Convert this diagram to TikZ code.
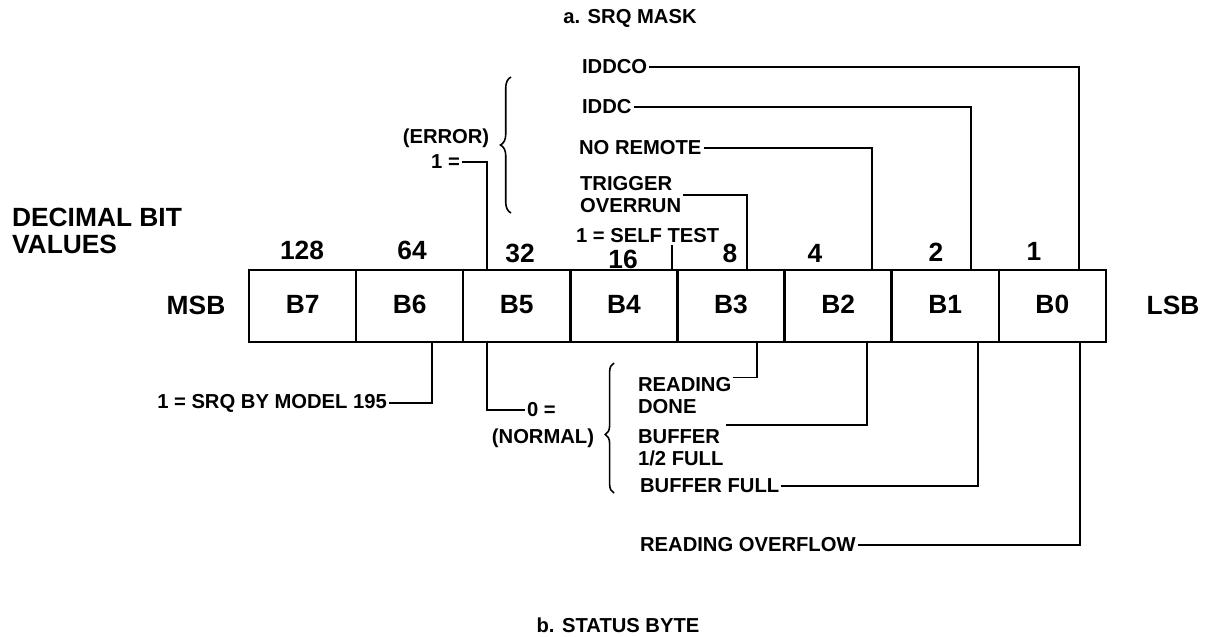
\documentclass[tikz,border=0pt]{standalone}
\usepackage{fontspec}
\setmainfont{Liberation Sans}
\usetikzlibrary{positioning, decorations.pathreplacing}

\newcommand{\lblfont}{\fontsize{11.5}{12.5}\selectfont\bfseries}
\newcommand{\bigfont}{\fontsize{15}{15}\selectfont\bfseries}

\begin{document}
\begin{tikzpicture}[
    x=0.02cm, y=-0.02cm,
    bitcell/.style={draw, line width=1.4pt, minimum width=2.1425cm,
                    minimum height=1.44cm, inner sep=0pt, outer sep=0pt,
                    text height=1.6ex, text depth=0pt, font=\bigfont},
    big/.style={font=\bigfont, inner sep=1pt, align=left},
    lbl/.style={font=\lblfont, inner sep=1pt, align=left},
    wire/.style={line width=1pt},
    curly/.style={decorate, line width=0.9pt}
  ]
    \useasboundingbox (0,0) rectangle (1206,636);

    % titles
    \node[lbl] (titlea) at (630,18) {a. SRQ MASK};
    \node[lbl] (titleb) at (618,625) {b. STATUS BYTE};

    % the byte
    \node[bitcell] (b7) at (302.6,306) {B7};
    \node[bitcell, right=0pt of b7] (b6) {B6};
    \node[bitcell, right=0pt of b6] (b5) {B5};
    \node[bitcell, right=0pt of b5] (b4) {B4};
    \node[bitcell, right=0pt of b4] (b3) {B3};
    \node[bitcell, right=0pt of b3] (b2) {B2};
    \node[bitcell, right=0pt of b2] (b1) {B1};
    \node[bitcell, right=0pt of b1] (b0) {B0};

    \node[big, anchor=west] (decimal) at (10,231) {DECIMAL BIT\\VALUES};
    \node[big] (msb) at (196,305) {MSB};
    \node[big] (lsb) at (1173,305) {LSB};

    % bit values
    \node[big] (v128) at (302,250) {128};
    \node[big] (v64) at (412,250) {64};
    \node[big] (v32) at (520,253) {32};
    \node[big] (v16) at (623,259) {16};
    \node[big] (v8) at (730,253) {8};
    \node[big] (v4) at (815,253) {4};
    \node[big] (v2) at (936,252) {2};
    \node[big] (v1) at (1034,251) {1};

    % taps on top and under the cells
    \coordinate (t5) at ([xshift=-0.6cm]b5.north);
    \coordinate (t4) at ([xshift=0.96cm]b4.north);
    \coordinate (t3) at ([xshift=0.32cm]b3.north);
    \coordinate (t2) at ([xshift=0.68cm]b2.north);
    \coordinate (t1) at ([xshift=0.52cm]b1.north);
    \coordinate (t0) at ([xshift=0.53cm]b0.north);
    \coordinate (u6) at ([xshift=0.45cm]b6.south);
    \coordinate (u5) at ([xshift=-0.6cm]b5.south);
    \coordinate (u3) at ([xshift=0.52cm]b3.south);
    \coordinate (u2) at ([xshift=0.58cm]b2.south);
    \coordinate (u1) at ([xshift=0.65cm]b1.south);
    \coordinate (u0) at ([xshift=0.55cm]b0.south);

    % SRQ mask labels
    \node[lbl, anchor=west] (iddco) at (580,67) {IDDCO};
    \node[lbl, anchor=west] (iddc) at (580,107) {IDDC};
    \node[lbl, anchor=west] (noremote) at (577,148) {NO REMOTE};
    \node[lbl, anchor=west] (trigger) at (578,195) {TRIGGER\\OVERRUN};
    \node[lbl, anchor=west] (selftest) at (574,236) {1 = SELF TEST};
    \node[lbl] (errtxt) at (446,138) {(ERROR)};
    \node[lbl, anchor=east] (erreq) at (462,162) {1 =};
    \draw[curly, decoration={brace, amplitude=6pt}] (511,213) -- (511,77);

    \draw[wire] (iddco.east) -| (t0);
    \draw[wire] (iddc.east) -| (t1);
    \draw[wire] (noremote.east) -| (t2);
    \draw[wire] (trigger.east) -| (t3);
    \draw[wire] (t4) -- (t4 |- selftest.south);
    \draw[wire] (erreq.east) -| (t5);

    % status byte labels
    \node[lbl, anchor=east] (srq) at (389,403) {1 = SRQ BY MODEL 195};
    \node[lbl, anchor=west] (normeq) at (525,410) {0 =};
    \node[lbl] (normtxt) at (543,438) {(NORMAL)};
    \draw[curly, decoration={brace, amplitude=5pt, aspect=0.45}] (614,493) -- (614,363);
    \node[lbl, anchor=west] (reading) at (636,396) {READING\\DONE};
    \node[lbl, anchor=west] (buffhalf) at (636,448) {BUFFER\\1/2 FULL};
    \node[lbl, anchor=west] (bufffull) at (638,486) {BUFFER FULL};
    \node[lbl, anchor=west] (overflow) at (638,545) {READING OVERFLOW};

    \draw[wire] (u6) |- (srq.east);
    \draw[wire] (u5) |- (normeq.west);
    \draw[wire] (u3) |- ([yshift=-1pt]reading.north east);
    \draw[wire] (u2) |- ([yshift=1.5pt]buffhalf.north east);
    \draw[wire] (u1) |- (bufffull.east);
    \draw[wire] (u0) |- (overflow.east);
\end{tikzpicture}
\end{document}
